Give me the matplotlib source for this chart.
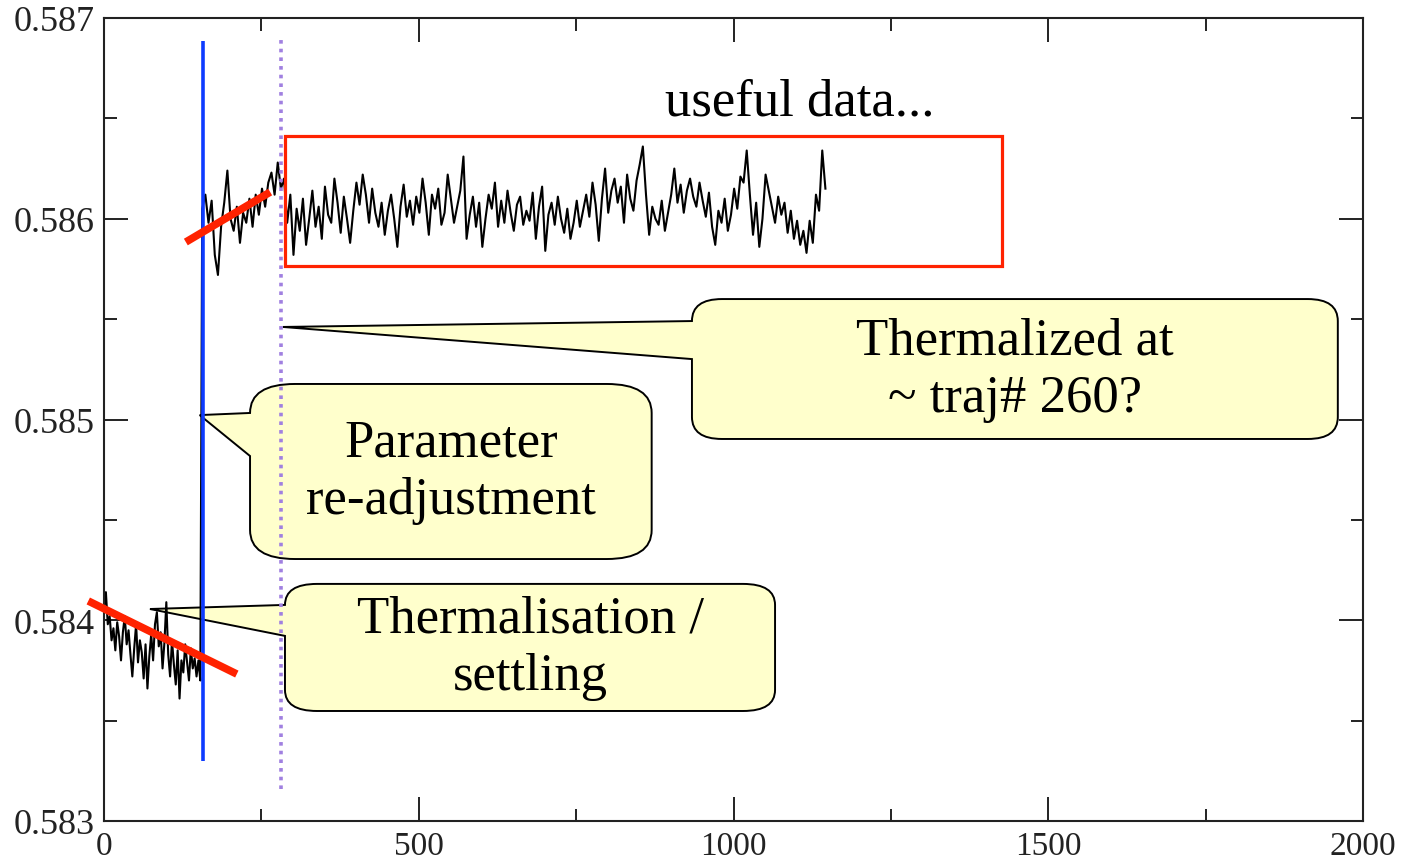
import numpy as np
import matplotlib
matplotlib.use("Agg")
import matplotlib.pyplot as plt
from matplotlib.path import Path
from matplotlib.patches import PathPatch, Rectangle

# ---- data ----
# thermalisation run (traj# 0..153)
seg1_x = np.arange(0, 154, 3)
seg1_y = [
    0.58406, 0.58414, 0.58398, 0.58402, 0.58390, 0.58396, 0.58385, 0.58399, 0.58392, 0.58380,
    0.58394, 0.58402, 0.58388, 0.58395, 0.58383, 0.58372, 0.58386, 0.58398, 0.58379, 0.58390,
    0.58384, 0.58371, 0.58388, 0.58366, 0.58382, 0.58393, 0.58380, 0.58398, 0.58404, 0.58387,
    0.58394, 0.58376, 0.58389, 0.58409, 0.58383, 0.58372, 0.58390, 0.58378, 0.58368, 0.58385,
    0.58361, 0.58380, 0.58374, 0.58388, 0.58379, 0.58370, 0.58386, 0.58376, 0.58381, 0.58372,
    0.58380, 0.58370,
]
# after parameter re-adjustment (traj# 156..1146)
seg2_x = np.arange(156, 1147, 5)
seg2_y = [
    0.58605, 0.58612, 0.58598, 0.58609, 0.58582, 0.58572, 0.58596, 0.58608, 0.58624, 0.58600,
    0.58594, 0.58606, 0.58588, 0.58603, 0.58598, 0.58610, 0.58596, 0.58612, 0.58602, 0.58615,
    0.58606, 0.58618, 0.58623, 0.58612, 0.58628, 0.58615, 0.58620, 0.58598, 0.58612, 0.58582,
    0.58605, 0.58594, 0.58610, 0.58587, 0.58600, 0.58614, 0.58596, 0.58606, 0.58590, 0.58616,
    0.58602, 0.58598, 0.58620, 0.58608, 0.58593, 0.58611, 0.58600, 0.58588, 0.58604, 0.58618,
    0.58607, 0.58622, 0.58612, 0.58598, 0.58615, 0.58603, 0.58596, 0.58608, 0.58592, 0.58604,
    0.58612, 0.58600, 0.58586, 0.58606, 0.58617, 0.58601, 0.58609, 0.58597, 0.58611, 0.58603,
    0.58620, 0.58608, 0.58592, 0.58612, 0.58605, 0.58615, 0.58597, 0.58603, 0.58622, 0.58610,
    0.58598, 0.58606, 0.58614, 0.58631, 0.58590, 0.58602, 0.58611, 0.58596, 0.58608, 0.58586,
    0.58600, 0.58612, 0.58605, 0.58618, 0.58596, 0.58609, 0.58598, 0.58614, 0.58603, 0.58594,
    0.58607, 0.58611, 0.58597, 0.58604, 0.58599, 0.58613, 0.58590, 0.58606, 0.58616, 0.58584,
    0.58602, 0.58608, 0.58597, 0.58611, 0.58600, 0.58593, 0.58605, 0.58590, 0.58598, 0.58609,
    0.58596, 0.58604, 0.58612, 0.58601, 0.58618, 0.58607, 0.58589, 0.58610, 0.58625, 0.58603,
    0.58614, 0.58620, 0.58608, 0.58616, 0.58598, 0.58622, 0.58610, 0.58604, 0.58619, 0.58627,
    0.58636, 0.58612, 0.58592, 0.58606, 0.58600, 0.58597, 0.58609, 0.58594, 0.58603, 0.58612,
    0.58625, 0.58608, 0.58617, 0.58603, 0.58614, 0.58620, 0.58611, 0.58606, 0.58618, 0.58609,
    0.58601, 0.58613, 0.58596, 0.58587, 0.58604, 0.58598, 0.58610, 0.58594, 0.58602, 0.58615,
    0.58605, 0.58621, 0.58618, 0.58634, 0.58612, 0.58592, 0.58608, 0.58586, 0.58600, 0.58622,
    0.58614, 0.58606, 0.58598, 0.58611, 0.58602, 0.58608, 0.58593, 0.58604, 0.58590, 0.58599,
    0.58587, 0.58594, 0.58583, 0.58599, 0.58588, 0.58612, 0.58604, 0.58634, 0.58615,
]

readjust_traj = 157      # blue marker
thermal_traj = 281       # dotted marker
useful_box = (287.5, 1426.5, 0.585765, 0.586412)
trend_settle = ([-25, 211], [0.584096, 0.583732])
trend_rise = ([130, 264], [0.585884, 0.586133])

x_ticks = [0, 500, 1000, 1500, 2000]
y_ticks = [0.583, 0.584, 0.585, 0.586, 0.587]

# callouts: text, box (x0, x1, y0, y1), tip, wedge bottom y, corner radius px
callouts = [
    ("Thermalized at\n~ traj# 260?", (934, 1960, 0.584903, 0.5856),
     (284, 0.585461), 0.585301, (30, 22)),
    ("Parameter\nre-adjustment", (232, 870, 0.584305, 0.585177),
     (152, 0.585022), 0.584818, (45, 29)),
    ("Thermalisation /\nsettling", (287.5, 1066, 0.583548, 0.584181),
     (73, 0.584056), 0.583922, (32, 21)),
]

plt.rcParams['font.family'] = ['Liberation Serif', 'DejaVu Serif']

fig = plt.figure(figsize=(14.04, 8.62), dpi=100)
ax = fig.add_axes([104 / 1404, 40 / 862, 1259 / 1404, 803 / 862])
ax.set_xlim(0, 2000)
ax.set_ylim(0.583, 0.587)

px_x = ax.bbox.width / 2000.0
px_y = ax.bbox.height / 0.004


def callout(ax, text, box, tip, wbot, rad):
    x0, x1, y0, y1 = box
    rx, ry = rad[0] / px_x, rad[1] / px_y
    verts = [(x0, y1 - ry), tip, (x0, wbot), (x0, y0 + ry),
             (x0, y0), (x0 + rx, y0), (x1 - rx, y0),
             (x1, y0), (x1, y0 + ry), (x1, y1 - ry),
             (x1, y1), (x1 - rx, y1), (x0 + rx, y1),
             (x0, y1), (x0, y1 - ry), (x0, y1 - ry)]
    codes = [Path.MOVETO, Path.LINETO, Path.LINETO, Path.LINETO,
             Path.CURVE3, Path.CURVE3, Path.LINETO,
             Path.CURVE3, Path.CURVE3, Path.LINETO,
             Path.CURVE3, Path.CURVE3, Path.LINETO,
             Path.CURVE3, Path.CURVE3, Path.CLOSEPOLY]
    ax.add_patch(PathPatch(Path(verts, codes), facecolor='#FFFFCC',
                           edgecolor='black', lw=1.4, zorder=1, clip_on=False))
    ax.text((x0 + x1) / 2, (y0 + y1) / 2, text, ha='center', va='center',
            fontsize=38, linespacing=1.25, zorder=6)


for txt, box, tip, wbot, rad in callouts:
    callout(ax, txt, box, tip, wbot, rad)

# the trajectory data
traj_x = np.concatenate([seg1_x, seg2_x])
traj_y = np.concatenate([seg1_y, seg2_y])
ax.plot(traj_x, traj_y, color='black', lw=1.5, zorder=2)

# markers
ax.plot([readjust_traj, readjust_traj], [0.583299, 0.586885], color='#0D3BFF',
        lw=2.6, zorder=3, solid_capstyle='butt')
ax.plot([thermal_traj, thermal_traj], [0.583159, 0.58691], color='#A080E0',
        lw=2.6, ls=(0, (1.0, 1.4)), zorder=4)
ax.plot(*trend_settle, color='#FF2200', lw=5.5, zorder=3, solid_capstyle='butt',
        clip_on=False)
ax.plot(*trend_rise, color='#FF2200', lw=5.5, zorder=3, solid_capstyle='butt')
bx0, bx1, by0, by1 = useful_box
ax.add_patch(Rectangle((bx0, by0), bx1 - bx0, by1 - by0, fill=False,
                       edgecolor='#FF2200', lw=2.3, zorder=3))
ax.text(1105, 0.586582, "useful data...", ha='center', va='center',
        fontsize=38, zorder=6)

# axes styling (Grace-like)
ax.set_xticks(x_ticks)
ax.set_yticks(y_ticks)
ax.set_xticks(np.arange(250, 2000, 500), minor=True)
ax.set_yticks(np.arange(0.5835, 0.587, 0.001), minor=True)
ax.set_yticklabels([f"{v:.3f}" for v in y_ticks])
ax.tick_params(which='both', direction='in', top=True, right=True,
               width=1.4, colors='#222222', labelsize=24)
ax.tick_params(axis='y', labelsize=26)
ax.tick_params(which='major', length=17, pad=7)
ax.tick_params(which='minor', length=9)
for s in ax.spines.values():
    s.set_linewidth(1.5)
    s.set_color('#222222')

fig.savefig('out.png', dpi=100)
